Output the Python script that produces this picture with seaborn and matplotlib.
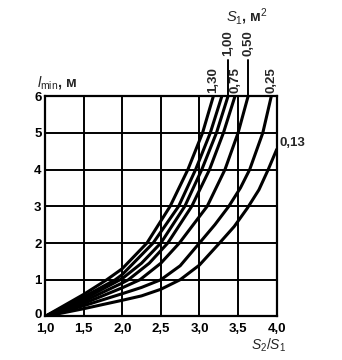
import matplotlib
matplotlib.use("Agg")
import matplotlib.pyplot as plt
import matplotlib.transforms as mtransforms
import numpy as np
import pandas as pd
import seaborn as sns

# Minimum length l_min versus area ratio S2/S1 for several inlet areas S1
s1_labels = ["1,30", "", "1,00", "0,75", "0,50", "0,25", "0,13"]

curve_ratio = [
    [1.0, 1.5, 1.8, 2.0, 2.32, 2.62, 2.85, 3.04, 3.18],
    [1.0, 1.5, 1.91, 2.0, 2.40, 2.73, 2.95, 3.14, 3.29],
    [1.0, 1.5, 2.0, 2.25, 2.50, 2.81, 3.03, 3.22, 3.37],
    [1.0, 1.5, 2.0, 2.08, 2.35, 2.59, 2.90, 3.13, 3.31, 3.46],
    [1.0, 1.5, 2.0, 2.23, 2.50, 2.74, 3.10, 3.33, 3.50, 3.63],
    [1.0, 1.5, 2.0, 2.25, 2.50, 2.75, 3.00, 3.20, 3.38, 3.53, 3.65, 3.82, 3.93],
    [1.0, 1.5, 2.0, 2.25, 2.50, 2.75, 3.00, 3.26, 3.45, 3.62, 3.77, 3.89, 4.0],
]
curve_lmin = [
    [0.0, 0.60, 1.0, 1.30, 2.0, 3.0, 4.0, 5.0, 6.0],
    [0.0, 0.53, 1.0, 1.14, 2.0, 3.0, 4.0, 5.0, 6.0],
    [0.0, 0.47, 1.03, 1.45, 2.0, 3.0, 4.0, 5.0, 6.0],
    [0.0, 0.41, 0.91, 1.0, 1.45, 2.0, 3.0, 4.0, 5.0, 6.0],
    [0.0, 0.35, 0.78, 1.0, 1.45, 2.0, 3.0, 4.0, 5.0, 6.0],
    [0.0, 0.29, 0.62, 0.79, 1.0, 1.38, 2.0, 2.5, 3.0, 3.5, 4.0, 5.0, 6.0],
    [0.0, 0.21, 0.44, 0.56, 0.74, 1.0, 1.40, 2.0, 2.45, 2.95, 3.45, 4.0, 4.55],
]

x_ticks = [1.0, 1.5, 2.0, 2.5, 3.0, 3.5, 4.0]
x_tick_labels = ["1,0", "1,5", "2,0", "2,5", "3,0", "3,5", "4,0"]
y_ticks = [0, 1, 2, 3, 4, 5, 6]

rows = []
for i, (xs, ys) in enumerate(zip(curve_ratio, curve_lmin)):
    for xv, yv in zip(xs, ys):
        rows.append({"ratio": xv, "lmin": yv, "curve": i})
df = pd.DataFrame(rows)

sns.set_style("white")
plt.rcParams["font.family"] = ["Liberation Sans", "DejaVu Sans"]
plt.rcParams["mathtext.fontset"] = "custom"
plt.rcParams["mathtext.rm"] = "Liberation Sans"
plt.rcParams["mathtext.it"] = "Liberation Sans:italic"
plt.rcParams["mathtext.bf"] = "Liberation Sans:bold"

fig = plt.figure(figsize=(3.42, 3.60), dpi=100)
ax = fig.add_axes([0.1316, 0.121, 0.6775, 0.612])

sns.lineplot(data=df, x="ratio", y="lmin", units="curve", estimator=None,
             sort=False, color="black", linewidth=2.2, ax=ax, legend=False)
for ln in ax.lines:
    ln.set_solid_joinstyle("round")

ax.set_xlim(1.0, 4.0)
ax.set_ylim(0, 6)
ax.set_xticks(x_ticks)
ax.set_xticklabels(x_tick_labels)
ax.set_yticks(y_ticks)
ax.grid(True, color="black", linewidth=1.4)
ax.set_axisbelow(True)
for sp in ax.spines.values():
    sp.set_color("black")
    sp.set_linewidth(1.6)
ax.tick_params(length=0, labelsize=9.5, colors="black")
ax.tick_params(axis="x", pad=4.5)
ax.tick_params(axis="y", pad=2.5)
for lab in ax.get_xticklabels() + ax.get_yticklabels():
    lab.set_fontweight("bold")
# lift the "0" slightly so it clears the "1,0" below it
lift = mtransforms.ScaledTranslation(0, 2 / 72, fig.dpi_scale_trans)
zero_lab = ax.get_yticklabels()[0]
zero_lab.set_transform(zero_lab.get_transform() + lift)
ax.set_xlabel("")
ax.set_ylabel("")

# curve labels: rotated above the top edge, leader lines for the raised ones
raised = {"1,00", "0,50"}
for xs, ys, lab in zip(curve_ratio, curve_lmin, s1_labels):
    if not lab:
        continue
    x_end, y_end = xs[-1], ys[-1]
    if y_end < 6:
        ax.text(x_end + 0.04, y_end + 0.18, lab, ha="left", va="center",
                fontsize=9.5, fontweight="bold", clip_on=False)
    elif lab in raised:
        ax.plot([x_end, x_end], [6, 6.98], color="black", linewidth=1.4,
                clip_on=False)
        ax.text(x_end, 7.08, lab, rotation=90, ha="center", va="bottom",
                fontsize=9.5, fontweight="bold", clip_on=False)
    else:
        ax.text(x_end, 6.08, lab, rotation=90, ha="center", va="bottom",
                fontsize=9.5, fontweight="bold", clip_on=False)

ax.text(3.62, 8.15, r"$S_1$, м$^2$", ha="center", va="center",
        fontsize=10.5, fontweight="bold", clip_on=False)
ax.text(0.90, 6.36, r"$l_{\mathrm{min}}$, м", ha="left", va="center",
        fontsize=10.5, fontweight="bold", clip_on=False)
ax.text(3.90, -0.78, r"$S_2/S_1$", ha="center", va="center",
        fontsize=10, clip_on=False)

fig.savefig("out.png", dpi=100)
